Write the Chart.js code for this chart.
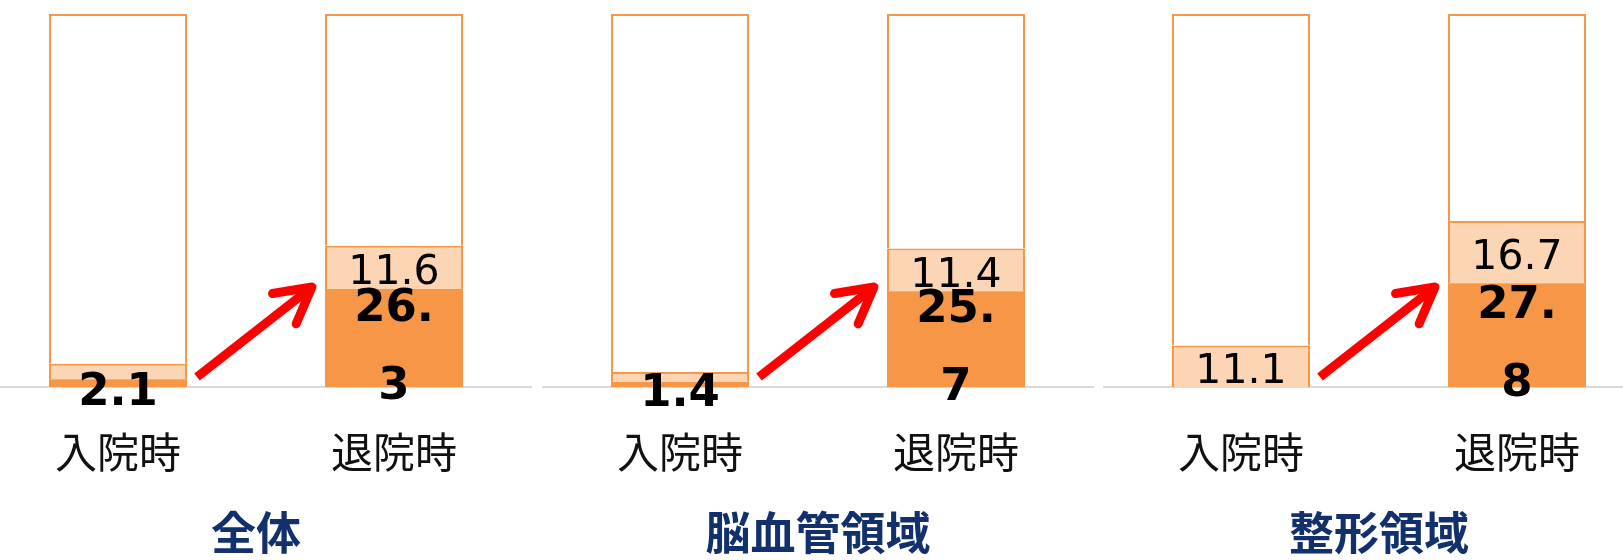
<!DOCTYPE html>
<html lang="ja">
<head>
<meta charset="utf-8">
<script src="https://cdn.jsdelivr.net/npm/chart.js@4.4.1/dist/chart.umd.min.js"></script>
<style>
  html, body { margin:0; padding:0; background:#fff; }
  body { width:1623px; height:560px; overflow:hidden; position:relative; }
  canvas { position:absolute; top:0; }
</style>
</head>
<body>
<canvas id="c1" width="552" height="560" style="left:-20px"></canvas>
<canvas id="c2" width="552" height="560" style="left:542px"></canvas>
<canvas id="c3" width="552" height="560" style="left:1103px"></canvas>
<script>
// ---- data ----
const categories = ['入院時', '退院時'];
const panelTitles = ['全体', '脳血管領域', '整形領域'];
// dark orange segment (bottom)
const darkAll   = [2.1, 26.3];
const darkCereb = [1.4, 25.7];
const darkOrtho = [0, 27.8];
// light orange segment (middle)
const lightAll   = [4.1, 11.6];
const lightCereb = [2.6, 11.4];
const lightOrtho = [11.1, 16.7];
// remaining share (top, white)
const restAll   = [93.8, 62.1];
const restCereb = [96.0, 62.9];
const restOrtho = [88.9, 55.5];
// arrow from / to (percent on value axis)
const arrowFrom = 2.7;
const arrowTo = 26.8;

const DARK = '#F79646', LIGHT = '#FCD5B5', NAVY = '#12306b';

const labelPlugin = {
  id: 'valueLabels',
  afterDatasetsDraw(chart) {
    const ctx = chart.ctx;
    const yScale = chart.scales.y;
    const darkMeta = chart.getDatasetMeta(0);
    const lightMeta = chart.getDatasetMeta(1);
    ctx.save();
    ctx.textAlign = 'center';
    ctx.textBaseline = 'middle';
    ctx.fillStyle = '#000';
    // light labels
    ctx.font = '41px "DejaVu Sans"';
    lightMeta.data.forEach((bar, i) => {
      const v = chart.data.datasets[1].data[i];
      if (v < 5) return;
      const p = bar.getProps(['x', 'y', 'base'], true);
      ctx.fillText(v.toFixed(1), p.x, (p.y + p.base) / 2 + 6);
    });
    // dark labels
    ctx.font = 'bold 45px "DejaVu Sans"';
    darkMeta.data.forEach((bar, i) => {
      const v = chart.data.datasets[0].data[i];
      if (!(v > 0)) return;
      const p = bar.getProps(['x', 'y', 'base', 'width'], true);
      const txt = v.toFixed(1);
      const cy = (p.y + p.base) / 2 + 10;
      if (ctx.measureText(txt).width > p.width * 0.7) {
        const k = txt.indexOf('.') + 1;
        ctx.fillText(txt.slice(0, k), p.x, cy - 39);
        ctx.fillText(txt.slice(k), p.x, cy + 39);
      } else {
        ctx.fillText(txt, p.x, cy);
      }
    });
    // arrow
    const b0 = darkMeta.data[0].getProps(['x', 'width'], true);
    const b1 = darkMeta.data[1].getProps(['x', 'width'], true);
    const x0 = b0.x + b0.width / 2 + 10, y0 = yScale.getPixelForValue(arrowFrom);
    const x1 = b1.x - b1.width / 2 - 13, y1 = yScale.getPixelForValue(arrowTo);
    const ang = Math.atan2(y1 - y0, x1 - x0);
    ctx.strokeStyle = '#ff0000';
    ctx.lineWidth = 9;
    ctx.lineCap = 'butt';
    ctx.beginPath();
    ctx.moveTo(x0, y0);
    ctx.lineTo(x1 - 4 * Math.cos(ang), y1 - 4 * Math.sin(ang));
    ctx.stroke();
    ctx.lineCap = 'round';
    ctx.lineJoin = 'round';
    const L = 40, spread = 0.5;
    ctx.beginPath();
    ctx.moveTo(x1 - L * Math.cos(ang - spread), y1 - L * Math.sin(ang - spread));
    ctx.lineTo(x1, y1);
    ctx.lineTo(x1 - L * Math.cos(ang + spread), y1 - L * Math.sin(ang + spread));
    ctx.stroke();
    ctx.restore();
  }
};

function makeChart(id, title, dark, light, rest) {
  new Chart(document.getElementById(id), {
    type: 'bar',
    data: {
      labels: categories,
      datasets: [
        { data: dark, backgroundColor: DARK, borderColor: DARK, borderWidth: 0 },
        { data: light, backgroundColor: LIGHT, borderColor: DARK, borderWidth: 2 },
        { data: rest, backgroundColor: '#ffffff', borderColor: DARK, borderWidth: 2 }
      ]
    },
    options: {
      responsive: false,
      animation: false,
      devicePixelRatio: 1,
      layout: { padding: { top: 14, left: 0, right: 0, bottom: 0 } },
      datasets: { bar: { categoryPercentage: 1, barPercentage: 0.5 } },
      plugins: { legend: { display: false }, tooltip: { enabled: false }, title: { display: false } },
      scales: {
        x: {
          stacked: true,
          grid: { display: false, drawTicks: false },
          border: { display: true, color: '#d9d9d9', width: 2 },
          ticks: { color: '#111', font: { family: '"Noto Sans CJK JP"', size: 42 }, padding: 40 },
          title: { display: true, text: title, color: NAVY,
                   font: { family: '"Noto Sans CJK JP"', size: 45, weight: 'bold' },
                   padding: { top: 0, bottom: 0 } },
          afterFit(scale) { scale.height = 173; }
        },
        y: { stacked: true, display: false, min: 0, max: 100 }
      }
    },
    plugins: [labelPlugin]
  });
}

makeChart('c1', panelTitles[0], darkAll, lightAll, restAll);
makeChart('c2', panelTitles[1], darkCereb, lightCereb, restCereb);
makeChart('c3', panelTitles[2], darkOrtho, lightOrtho, restOrtho);
</script>
</body>
</html>
